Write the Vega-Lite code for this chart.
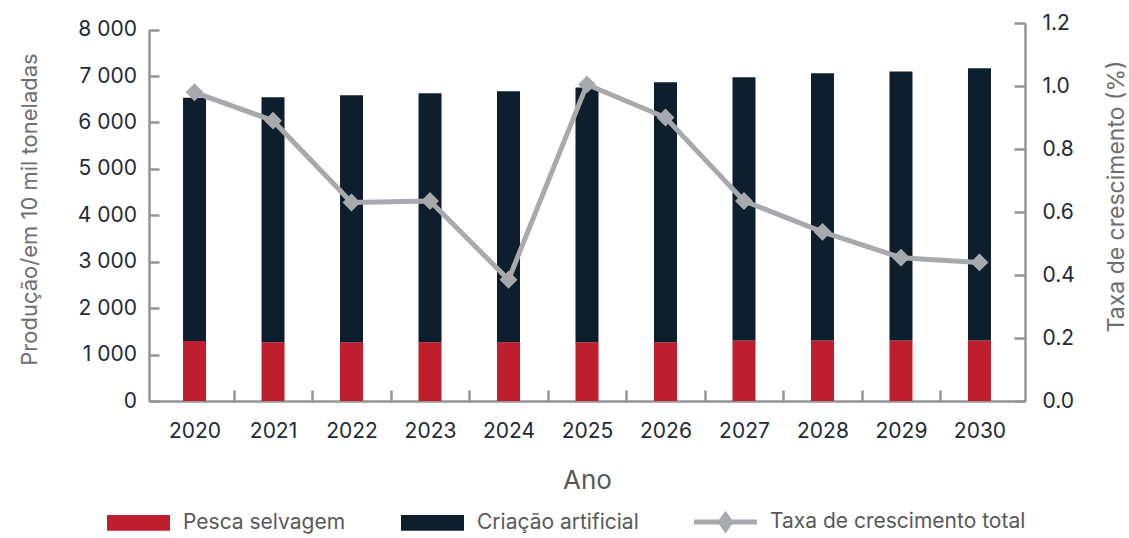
{
  "$schema": "https://vega.github.io/schema/vega-lite/v6.json",
  "width": 876,
  "height": 378,
  "autosize": {"type": "none"},
  "padding": {"left": 149, "top": 23, "right": 104, "bottom": 137},
  "background": "white",
  "config": {
    "view": {"stroke": null},
    "font": "Inter",
    "axis": {
      "labelFont": "Inter",
      "titleFont": "Inter",
      "labelColor": "#1e2b38",
      "titleColor": "#6d6e71",
      "titleFontWeight": "normal",
      "domainColor": "#939598",
      "domainWidth": 2.5,
      "tickColor": "#939598",
      "tickWidth": 2.5,
      "grid": false
    },
    "legend": {
      "labelFont": "Inter"
    }
  },
  "datasets": {
    "producao": [
      {"ano": "2020", "serie": "Pesca selvagem", "ordem": 1, "valor": 1290},
      {"ano": "2021", "serie": "Pesca selvagem", "ordem": 1, "valor": 1265},
      {"ano": "2022", "serie": "Pesca selvagem", "ordem": 1, "valor": 1265},
      {"ano": "2023", "serie": "Pesca selvagem", "ordem": 1, "valor": 1265},
      {"ano": "2024", "serie": "Pesca selvagem", "ordem": 1, "valor": 1265},
      {"ano": "2025", "serie": "Pesca selvagem", "ordem": 1, "valor": 1265},
      {"ano": "2026", "serie": "Pesca selvagem", "ordem": 1, "valor": 1265},
      {"ano": "2027", "serie": "Pesca selvagem", "ordem": 1, "valor": 1305},
      {"ano": "2028", "serie": "Pesca selvagem", "ordem": 1, "valor": 1305},
      {"ano": "2029", "serie": "Pesca selvagem", "ordem": 1, "valor": 1305},
      {"ano": "2030", "serie": "Pesca selvagem", "ordem": 1, "valor": 1305},
      {"ano": "2020", "serie": "Criação artificial", "ordem": 2, "valor": 5240},
      {"ano": "2021", "serie": "Criação artificial", "ordem": 2, "valor": 5280},
      {"ano": "2022", "serie": "Criação artificial", "ordem": 2, "valor": 5320},
      {"ano": "2023", "serie": "Criação artificial", "ordem": 2, "valor": 5365},
      {"ano": "2024", "serie": "Criação artificial", "ordem": 2, "valor": 5405},
      {"ano": "2025", "serie": "Criação artificial", "ordem": 2, "valor": 5490},
      {"ano": "2026", "serie": "Criação artificial", "ordem": 2, "valor": 5600},
      {"ano": "2027", "serie": "Criação artificial", "ordem": 2, "valor": 5670},
      {"ano": "2028", "serie": "Criação artificial", "ordem": 2, "valor": 5755},
      {"ano": "2029", "serie": "Criação artificial", "ordem": 2, "valor": 5795},
      {"ano": "2030", "serie": "Criação artificial", "ordem": 2, "valor": 5860}
    ],
    "taxa": [
      {"ano": "2020", "taxa": 0.98},
      {"ano": "2021", "taxa": 0.89},
      {"ano": "2022", "taxa": 0.63},
      {"ano": "2023", "taxa": 0.635},
      {"ano": "2024", "taxa": 0.385},
      {"ano": "2025", "taxa": 1.005},
      {"ano": "2026", "taxa": 0.9},
      {"ano": "2027", "taxa": 0.635},
      {"ano": "2028", "taxa": 0.537},
      {"ano": "2029", "taxa": 0.455},
      {"ano": "2030", "taxa": 0.44}
    ]
  },
  "encoding": {
    "x": {
      "field": "ano",
      "type": "nominal",
      "sort": null,
      "scale": {"paddingInner": 0, "paddingOuter": 0.08},
      "axis": {
        "title": "Ano",
        "titleFontSize": 26,
        "titleColor": "#58595b",
        "titlePadding": 26,
        "labelAngle": 0,
        "labelFontSize": 21,
        "labelPadding": 30,
        "tickSize": -11,
        "tickOffset": 39.25,
        "labelOffset": -39.25,
        "tickOpacity": {"condition": {"test": "datum.value === '2030'", "value": 0}, "value": 1}
      }
    }
  },
  "layer": [
    {
      "data": {"name": "producao"},
      "mark": {"type": "bar", "width": 23},
      "encoding": {
        "y": {
          "field": "valor",
          "type": "quantitative",
          "stack": "zero",
          "scale": {"domain": [0, 8000], "range": [378, 6.6], "nice": false},
          "axis": {
            "title": "Produção/em 10 mil toneladas",
            "titleFontSize": 22,
            "titleAngle": -90,
            "titleBaseline": "alphabetic",
            "titleAlign": "center",
            "titleX": -113,
            "titleY": 186,
            "values": [0, 1000, 2000, 3000, 4000, 5000, 6000, 7000, 8000],
            "labelExpr": "replace(format(datum.value, ','), ',', ' ')",
            "labelFontSize": 21,
            "labelPadding": 22.5,
            "tickSize": -10
          }
        },
        "color": {
          "field": "serie",
          "type": "nominal",
          "scale": {
            "domain": ["Pesca selvagem", "Criação artificial", "Taxa de crescimento total"],
            "range": ["#BE1E2D", "#0D1F2D", "#A7A9AC"]
          },
          "legend": {
            "title": null,
            "orient": "none",
            "direction": "horizontal",
            "legendX": -42,
            "legendY": 467.5,
            "labelFontSize": 21,
            "labelLimit": 500,
            "labelColor": "#58595b",
            "labelOffset": 13,
            "columnPadding": 55,
            "symbolSize": 3969,
            "symbolStrokeWidth": 0,
            "encode": {
              "symbols": {
                "update": {
                  "shape": {"signal": "datum.value === 'Taxa de crescimento total' ? 'M-1,-0.08H1V0.08H-1Z M0,-0.36L0.26,0L0,0.36L-0.26,0Z' : 'M-1,-0.25H1V0.25H-1Z'"},
                  "fill": {"scale": "color", "field": "value"},
                  "stroke": {"value": "transparent"},
                  "opacity": {"value": 1},
                  "fillOpacity": {"value": 1}
                }
              }
            }
          }
        },
        "order": {"field": "ordem", "type": "quantitative"}
      }
    },
    {
      "data": {"name": "taxa"},
      "mark": {
        "type": "line",
        "strokeWidth": 5,
        "point": {"shape": "diamond", "size": 320, "filled": true, "opacity": 1}
      },
      "encoding": {
        "y": {
          "field": "taxa",
          "type": "quantitative",
          "scale": {"domain": [0, 1.2], "nice": false},
          "axis": {
            "orient": "right",
            "title": "Taxa de crescimento (%)",
            "titleFontSize": 23,
            "titleAngle": -90,
            "titleBaseline": "alphabetic",
            "titleAlign": "center",
            "titleX": 98,
            "titleY": 173,
            "values": [0, 0.2, 0.4, 0.6, 0.8, 1.0, 1.2],
            "format": ".1f",
            "labelFontSize": 21,
            "labelPadding": 28,
            "tickSize": -11
          }
        },
        "color": {"datum": "Taxa de crescimento total"}
      }
    }
  ],
  "resolve": {"scale": {"y": "independent"}}
}
